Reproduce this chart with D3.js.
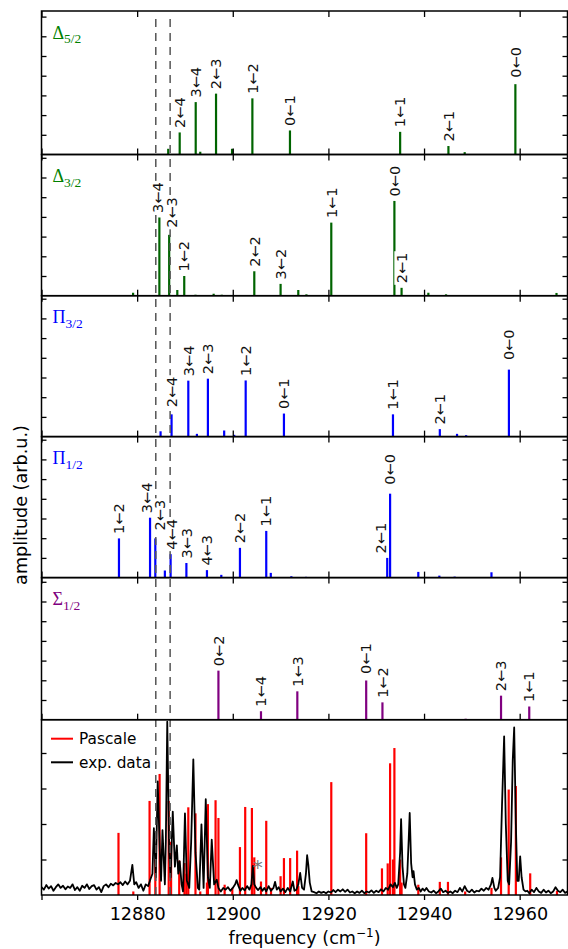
<!DOCTYPE html>
<html><head><meta charset="utf-8">
<script src="https://cdn.jsdelivr.net/npm/d3@7"></script>
<style>body{margin:0;background:#fff}svg{display:block}</style>
</head><body>
<svg id="c" width="568" height="949"></svg>
<script>
// ---------------- DATA ----------------
const freqDomain = [12860, 12970];
const xTickValues = [12860, 12880, 12900, 12920, 12940, 12960];
const xTickLabels = ["", "12880", "12900", "12920", "12940", "12960"];
const stickYTicks = [1, 2, 3, 4, 5, 6, 7];
const bottomYTicks = [1, 2, 3, 4];

const panelSymbols = ["Δ", "Δ", "Π", "Π", "Σ"];
const panelSubs = ["5/2", "3/2", "3/2", "1/2", "1/2"];

// Delta 5/2
const d52Freq = [12886.5, 12888.9, 12892.25, 12893.2, 12896.5, 12899.85, 12904.1, 12911.96, 12935.0, 12945.1, 12948.5, 12959.1];
const d52Amp  = [0.29, 1.12, 2.66, 0.14, 3.09, 0.29, 2.85, 1.22, 1.15, 0.43, 0.12, 3.57];
const d52Lab  = ["", "2←4", "3←4", "", "2←3", "", "1←2", "0←1", "1←1", "2←1", "", "0←0"];

// Delta 3/2
const d32Freq = [12879.15, 12884.65, 12886.7, 12888.4, 12889.85, 12892.2, 12896.0, 12897.7, 12904.5, 12910.0, 12913.7, 12915.4, 12920.6, 12933.8, 12935.3, 12940.9, 12944.6, 12967.7];
const d32Amp  = [0.15, 3.97, 3.09, 0.29, 1.0, 0.05, 0.1, 0.05, 1.24, 0.6, 0.29, 0.07, 3.71, 4.81, 0.4, 0.15, 0.07, 0.14];
const d32Lab  = ["", "3←4", "2←3", "", "1←2", "", "", "", "2←2", "3←2", "", "", "1←1", "0←0", "2←1", "", "", ""];

// Pi 3/2
const p32Freq = [12884.9, 12887.2, 12890.7, 12892.5, 12894.8, 12898.2, 12900.3, 12902.7, 12910.7, 12933.5, 12943.3, 12946.9, 12948.8, 12957.75];
const p32Amp  = [0.27, 1.13, 2.84, 0.14, 2.94, 0.31, 0.09, 2.85, 1.17, 1.13, 0.38, 0.14, 0.07, 3.4];
const p32Lab  = ["", "2←4", "3←4", "", "2←3", "", "", "1←2", "0←1", "1←1", "2←1", "", "", "0←0"];

// Pi 1/2
const p12Freq = [12876.2, 12882.7, 12883.8, 12885.8, 12887.0, 12890.3, 12894.6, 12897.6, 12901.5, 12907.0, 12907.95, 12912.25, 12915.3, 12932.3, 12932.9, 12938.8, 12943.2, 12946.4, 12954.1];
const p12Amp  = [1.99, 3.04, 1.99, 0.36, 1.19, 0.74, 0.38, 0.14, 1.51, 2.37, 0.24, 0.07, 0.04, 1.0, 4.26, 0.29, 0.1, 0.05, 0.27];
const p12Lab  = ["1←2", "3←4", "2←3", "", "4←4", "3←3", "4←3", "", "2←2", "1←1", "", "", "", "2←1", "0←0", "", "", "", ""];

// Sigma 1/2
const s12Freq = [12897.0, 12905.9, 12913.5, 12927.9, 12931.3, 12948.7, 12956.1, 12962.0];
const s12Amp  = [2.49, 0.43, 1.44, 1.99, 0.88, 0.05, 1.22, 0.67];
const s12Lab  = ["0←2", "1←4", "1←3", "0←1", "1←2", "", "2←3", "1←1"];

// Pascale model (red sticks, bottom panel)
const pascaleFreq = [12876.1, 12879.2, 12882.6, 12883.8, 12884.7, 12886.6, 12887.1, 12888.8, 12889.9, 12890.3, 12890.7, 12892.2, 12893.2, 12894.6, 12894.8, 12896.4, 12897.0, 12898.3, 12899.9, 12901.5, 12902.6, 12904.0, 12904.5, 12905.9, 12907.0, 12908.0, 12910.0, 12910.7, 12912.0, 12913.45, 12913.7, 12920.6, 12927.9, 12931.2, 12932.4, 12932.9, 12933.5, 12933.8, 12935.0, 12935.3, 12938.8, 12943.3, 12945.0, 12948.6, 12954.1, 12956.1, 12957.7, 12959.2, 12962.2, 12967.8];
const pascaleAmp  = [1.75, 0.1, 2.65, 1.0, 3.41, 2.65, 1.5, 0.97, 0.9, 0.6, 2.47, 2.3, 0.1, 0.35, 2.56, 2.67, 2.17, 0.29, 0.2, 1.35, 2.48, 2.45, 1.06, 0.38, 2.09, 0.2, 0.53, 1.04, 1.04, 1.25, 0.25, 3.18, 1.74, 0.75, 0.89, 3.71, 1.0, 4.14, 1.0, 0.35, 0.29, 0.37, 0.37, 0.1, 0.2, 1.06, 2.97, 3.07, 0.61, 0.12];

// Experimental data (black line)
const expFreq = [
12860.0,12860.5,12861.0,12861.5,12862.0,12862.5,12863.0,12863.5,12864.0,12864.5,12865.0,12865.5,12866.0,12866.5,12867.0,12867.5,12868.0,12868.5,12869.0,12869.5,
12870.0,12870.5,12871.0,12871.5,12872.0,12872.5,12873.0,12873.5,12874.0,12874.5,12875.0,12875.5,12876.0,12876.5,12877.0,12877.5,12878.0,12878.5,12879.0,12879.4,
12879.8,12880.3,12880.8,12881.3,12881.8,12882.3,12882.8,
12883.2,12883.5,12883.9,12884.3,12884.8,12885.0,12885.3,12885.8,12886.0,12886.3,12886.7,12887.0,12887.45,12887.9,12888.3,12888.6,12888.9,12889.3,12889.6,12890.0,
12890.4,12890.9,12891.3,12891.75,12892.2,12892.7,12893.0,12893.45,12893.9,12894.35,12894.8,12895.2,12895.6,12896.1,12896.65,
12897.0,12897.5,12898.0,12898.5,12899.0,12899.5,12900.0,12900.5,12900.8,12901.2,12901.6,12902.0,12902.5,12903.0,12903.5,12903.9,12904.2,12904.5,12904.9,12905.3,
12905.8,12906.2,12906.6,12907.0,12907.5,12908.0,12908.5,12908.85,12909.2,12909.6,12910.0,12910.5,12911.0,12911.5,12912.0,12912.55,12912.9,12913.3,12913.7,12914.1,
12914.5,12914.9,12915.3,12915.55,12915.8,12916.1,12916.5,
12917.0,12917.5,12918.0,12918.5,12919.0,12919.5,12920.0,12920.5,12921.0,12921.5,12922.0,12922.5,12923.0,12923.5,12924.0,12924.5,12925.0,12925.5,12926.0,12926.5,
12927.0,12927.5,12928.0,12928.5,12929.0,12929.5,12930.0,12930.5,12931.0,12931.5,12932.0,12932.5,12933.0,12933.5,12933.9,12934.3,
12934.6,12935.0,12935.2,12935.5,12935.8,12936.1,12936.5,12936.8,12937.0,12937.3,12937.6,12937.8,12938.1,12938.5,12938.9,12939.3,12939.7,12940.1,12940.5,12941.0,
12941.5,12942.0,12942.5,12943.0,12943.5,12944.0,12944.5,12945.0,12945.5,12946.0,12946.5,12947.0,12947.5,12948.0,12948.5,12949.0,12949.5,12950.0,12950.5,12951.0,
12951.5,12952.0,12952.5,12953.0,12953.5,12954.0,12954.3,12954.7,12955.0,12955.5,
12955.9,12956.3,12956.75,12957.1,12957.5,12957.8,12958.2,12958.55,12958.85,12959.2,12959.5,12959.8,12960.1,12960.4,12960.8,12961.2,
12961.6,12962.0,12962.5,12963.0,12963.5,12964.0,12964.5,12965.0,12965.5,12966.0,12966.5,12967.0,12967.5,12968.0,12968.5,12969.0,12969.5,12970.0];
const expAmp = [
0.22,0.15,0.28,0.18,0.25,0.12,0.22,0.30,0.20,0.26,0.16,0.24,0.20,0.30,0.14,0.22,0.12,0.26,0.20,0.30,
0.17,0.25,0.28,0.15,0.22,0.08,0.25,0.30,0.22,0.32,0.27,0.34,0.30,0.36,0.28,0.38,0.30,0.40,0.85,0.30,
0.36,0.20,0.30,0.12,0.30,0.25,0.45,
0.60,1.88,0.50,3.20,1.00,0.40,1.83,0.30,1.50,4.88,1.20,0.50,2.35,0.80,1.40,0.60,0.95,0.30,0.10,2.30,
0.40,0.20,1.50,3.82,1.20,0.20,0.15,1.99,0.20,2.70,0.50,0.20,1.56,0.30,0.43,
0.20,0.10,0.20,0.15,0.22,0.12,0.20,0.30,0.42,0.25,0.12,0.20,0.13,0.25,0.15,0.30,0.82,0.30,0.20,0.14,
0.22,0.12,0.20,0.10,0.25,0.12,0.20,0.37,0.15,0.22,0.10,0.18,0.08,0.20,0.10,0.38,0.12,0.15,0.30,0.62,
0.20,0.15,0.60,1.12,0.85,0.35,0.10,
0.08,0.05,0.10,0.06,0.09,0.05,0.10,0.07,0.14,0.08,0.15,0.10,0.16,0.09,0.15,0.07,0.10,0.05,0.10,0.06,
0.12,0.05,0.10,0.07,0.13,0.06,0.12,0.08,0.16,0.10,0.20,0.15,0.30,0.22,0.34,0.20,
0.30,1.20,2.14,0.80,0.30,0.20,0.60,1.60,2.31,0.90,0.50,0.67,0.30,0.15,0.20,0.10,0.18,0.12,0.20,0.10,
0.07,0.12,0.05,0.10,0.18,0.08,0.12,0.06,0.10,0.05,0.12,0.08,0.20,0.10,0.25,0.12,0.08,0.15,0.07,0.12,
0.10,0.18,0.12,0.20,0.15,0.30,0.48,0.20,0.12,0.20,
0.50,2.50,4.47,2.00,0.40,0.30,1.50,3.80,4.72,2.00,0.40,0.40,1.09,0.50,0.15,0.10,
0.12,0.05,0.15,0.08,0.20,0.10,0.06,0.15,0.07,0.12,0.05,0.10,0.22,0.12,0.08,0.15,0.06,0.10];

const dashedFreq = [12883.9, 12886.9];
const starFreq = 12905.2, starAmp = 0.93;
const legendNames = ["Pascale", "exp. data"];

// ---------------- LAYOUT / STYLE ----------------
const svg = d3.select("#c");
const X0 = 41.5, X1 = 567.5;
const bounds = [11, 154.5, 295.7, 436.6, 577.6, 719.7];
const bottomTop = 719.7, bottomBot = 895;
const stickUnit = 19.7, bottomUnit = 35.5;
const colors = ["#006400", "#006400", "#0000ff", "#0000ff", "#800080"];
const textColors = ["#008000", "#008000", "#0000ff", "#0000ff", "#800080"];
const font = "'DejaVu Sans', sans-serif";
const labelSize = 14.5;

const x = d3.scaleLinear().domain(freqDomain).range([X0, X1]);

const panels = [
  {f: d52Freq, a: d52Amp, l: d52Lab},
  {f: d32Freq, a: d32Amp, l: d32Lab},
  {f: p32Freq, a: p32Amp, l: p32Lab},
  {f: p12Freq, a: p12Amp, l: p12Lab},
  {f: s12Freq, a: s12Amp, l: s12Lab}
];
// label nudges (px) per panel: [dx, dy]
const nudge = [
  {"0←0": [0, -2]},
  {"3←4": [-1.3, 0], "2←3": [2.4, -2.5]},
  {"2←4": [0, -2.5], "0←0": [0, -5]},
  {"3←4": [-3.7, 0], "2←3": [4.4, -3.5], "4←4": [1.4, 0], "2←1": [-6.4, 0], "0←0": [0, -4.5]},
  {"0←1": [0, -2]}
];

const gSticks = svg.append("g");
const gDash = svg.append("g");
const gBoxes = svg.append("g");
const gLabels = svg.append("g");
const gFrames = svg.append("g");

panels.forEach((p, i) => {
  const top = bounds[i], bot = bounds[i + 1];
  const y = d3.scaleLinear().domain([0, (bot - top) / stickUnit]).range([bot, top]);
  gSticks.append("g").selectAll("line").data(p.f).join("line")
    .attr("x1", d => x(d)).attr("x2", d => x(d))
    .attr("y1", y(0)).attr("y2", (d, k) => y(p.a[k]))
    .attr("stroke", colors[i]).attr("stroke-width", 2.2);

  // labels with white boxes
  p.f.forEach((f, k) => {
    const lab = p.l[k];
    if (!lab) return;
    const nd = nudge[i][lab] || [0, 0];
    const tr = `translate(${x(f) + nd[0]},${y(p.a[k]) - 4.5 + nd[1]}) rotate(-90)`;
    const t = gLabels.append("text").attr("transform", tr).text(lab)
      .attr("font-family", font).attr("font-size", labelSize)
      .attr("dy", "0.36em").attr("fill", "#111");
    const bb = t.node().getBBox();
    gBoxes.append("rect").attr("transform", tr).attr("fill", "#fff")
      .attr("x", bb.x - 1.5).attr("width", bb.width + 3)
      .attr("y", -0.5 * labelSize).attr("height", labelSize);
  });

  // panel name
  const nm = gLabels.append("text").attr("x", 52.5).attr("y", top + 27.5)
    .attr("font-family", "'Liberation Serif', 'DejaVu Serif', serif")
    .attr("fill", textColors[i]);
  nm.append("tspan").attr("font-size", 18).text(panelSymbols[i]);
  nm.append("tspan").attr("font-size", 13.5).attr("dy", 4.5).text(panelSubs[i]);

  // frame + ticks
  const fg = gFrames.append("g");
  fg.append("g").attr("transform", `translate(0,${bot})`)
    .call(d3.axisBottom(x).tickValues(xTickValues).tickSize(-6).tickFormat(""));
  fg.append("g").attr("transform", `translate(0,${top})`)
    .call(d3.axisTop(x).tickValues(xTickValues).tickSize(-6).tickFormat(""));
  fg.append("g").attr("transform", `translate(${X0},0)`)
    .call(d3.axisLeft(y).tickValues(stickYTicks).tickSize(-5).tickFormat(""));
  fg.append("g").attr("transform", `translate(${X1},0)`)
    .call(d3.axisRight(y).tickValues(stickYTicks).tickSize(-5).tickFormat(""));
  fg.selectAll(".domain").remove();
  fg.selectAll(".tick line").attr("stroke", "#000").attr("stroke-width", 1.3);
  fg.append("rect").attr("x", X0).attr("y", top).attr("width", X1 - X0).attr("height", bot - top)
    .attr("fill", "none").attr("stroke", "#000").attr("stroke-width", 1.5);
});

// bottom panel
const yb = d3.scaleLinear().domain([0, (bottomBot - bottomTop) / bottomUnit]).range([bottomBot, bottomTop]);
gSticks.append("g").selectAll("line").data(pascaleFreq).join("line")
  .attr("x1", d => x(d)).attr("x2", d => x(d))
  .attr("y1", yb(0)).attr("y2", (d, k) => yb(pascaleAmp[k]))
  .attr("stroke", "#ff0000").attr("stroke-width", 2.2);
const expPts = expFreq.map((f, k) => [f, expAmp[k]]);
gSticks.append("path").datum(expPts)
  .attr("d", d3.line().x(d => x(d[0])).y(d => yb(d[1])))
  .attr("fill", "none").attr("stroke", "#000").attr("stroke-width", 1.8).attr("stroke-linejoin", "round");

// star marker
gSticks.append("text").attr("x", x(starFreq)).attr("y", yb(starAmp) + 12)
  .attr("text-anchor", "middle").attr("font-family", font).attr("font-size", 20)
  .attr("fill", "#777").text("*");

// dashed lines
gDash.selectAll("line").data(dashedFreq).join("line")
  .attr("x1", d => x(d)).attr("x2", d => x(d))
  .attr("y1", 19).attr("y2", bottomBot)
  .attr("stroke", "#555").attr("stroke-width", 1.5).attr("stroke-dasharray", "8,6");

// legend
const legColors = ["#ff0000", "#000"];
legendNames.forEach((n, i) => {
  const ly = 738.7 + i * 23.6;
  gLabels.append("line").attr("x1", 51).attr("x2", 73).attr("y1", ly).attr("y2", ly)
    .attr("stroke", legColors[i]).attr("stroke-width", 2);
  gLabels.append("text").attr("x", 79).attr("y", ly).attr("dy", "0.36em")
    .attr("font-family", font).attr("font-size", 15.3).text(n);
});

// bottom frame + axes
const bf = gFrames.append("g");
bf.append("g").attr("transform", `translate(0,${bottomBot})`)
  .call(d3.axisBottom(x).tickValues(xTickValues).tickSize(5).tickPadding(8)
    .tickFormat((d, i) => xTickLabels[i]));
bf.append("g").attr("transform", `translate(${X0},0)`)
  .call(d3.axisLeft(yb).tickValues(bottomYTicks).tickSize(-5).tickFormat(""));
bf.append("g").attr("transform", `translate(${X1},0)`)
  .call(d3.axisRight(yb).tickValues(bottomYTicks).tickSize(-5).tickFormat(""));
bf.selectAll(".domain").remove();
bf.selectAll(".tick line").attr("stroke", "#000").attr("stroke-width", 1.3);
bf.selectAll(".tick text").attr("font-family", font).attr("font-size", 17.6).attr("fill", "#000");
bf.append("rect").attr("x", X0).attr("y", bottomTop).attr("width", X1 - X0).attr("height", bottomBot - bottomTop)
  .attr("fill", "none").attr("stroke", "#000").attr("stroke-width", 1.5);

// axis titles
const xl = svg.append("text").attr("x", (X0 + X1) / 2).attr("y", 944)
  .attr("text-anchor", "middle").attr("font-family", font).attr("font-size", 17.6);
xl.append("tspan").text("frequency (cm");
xl.append("tspan").attr("font-size", 12).attr("dy", -7).text("−1");
xl.append("tspan").attr("dy", 7).text(")");

svg.append("text").attr("transform", "translate(21,505) rotate(-90)")
  .attr("text-anchor", "middle").attr("dy", "0.36em")
  .attr("font-family", font).attr("font-size", 17.6).text("amplitude (arb.u.)");
</script>
</body></html>
